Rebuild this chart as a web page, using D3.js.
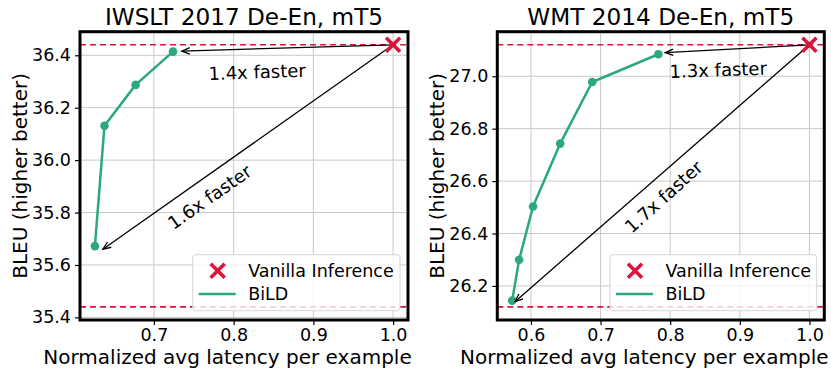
<!doctype html>
<html lang="en">
<head>
    <meta charset="UTF-8">
    <title>BiLD latency vs BLEU</title>
    <script src="https://d3js.org/d3.v7.min.js"></script>
    <style>
      body { margin: 0; background: #fff; }
      text { font-family: "DejaVu Sans", sans-serif; fill: #000; }
    </style>
</head>
<body>
    <svg width="831" height="373"></svg>

    <script>

      // Data
      const iwsltLatency = [0.626, 0.638, 0.677, 0.724];
      const iwsltBleu = [35.672, 36.131, 36.287, 36.414];
      const iwsltVanilla = [1.0, 36.44];
      const iwsltLower = 35.44;

      const wmtLatency = [0.573, 0.583, 0.603, 0.642, 0.688, 0.783];
      const wmtBleu = [26.144, 26.30, 26.503, 26.743, 26.978, 27.084];
      const wmtVanilla = [1.0, 27.12];
      const wmtLower = 26.12;

      const iwsltXTicks = [0.7, 0.8, 0.9, 1.0];
      const iwsltYTicks = [35.4, 35.6, 35.8, 36.0, 36.2, 36.4];
      const wmtXTicks = [0.6, 0.7, 0.8, 0.9, 1.0];
      const wmtYTicks = [26.2, 26.4, 26.6, 26.8, 27.0];

      const red = "#dc143c";
      const green = "#2ca87f";

      const svg = d3.select("svg");

      // arrow head, open "->" style
      svg.append("defs").append("marker")
          .attr("id", "head")
          .attr("viewBox", "-10 -5 12 10")
          .attr("markerWidth", 12)
          .attr("markerHeight", 10)
          .attr("markerUnits", "userSpaceOnUse")
          .attr("refX", 0)
          .attr("refY", 0)
          .attr("orient", "auto")
        .append("path")
          .attr("d", "M-8,-3.2L0,0L-8,3.2")
          .attr("fill", "none")
          .attr("stroke", "#000")
          .attr("stroke-width", 1.3);

      function panel(cfg) {
        const left = cfg.left, right = cfg.right, top = 31.7, bottom = 320;
        const g = svg.append("g");

        const xs = cfg.lat.concat([cfg.vanilla[0]]);
        const ys = cfg.bleu.concat([cfg.vanilla[1], cfg.lower]);
        const [x0, x1] = d3.extent(xs), [y0, y1] = d3.extent(ys);
        const px = (x1 - x0) * 0.05, py = (y1 - y0) * 0.05;

        const x = d3.scaleLinear().domain([x0 - px, x1 + px]).range([left, right]);
        const y = d3.scaleLinear().domain([y0 - py, y1 + py]).range([bottom, top]);

        // grid
        g.selectAll(".gx").data(cfg.xTicks).join("line")
            .attr("x1", d => x(d)).attr("x2", d => x(d))
            .attr("y1", top).attr("y2", bottom)
            .attr("stroke", "#c8c8c8").attr("stroke-width", 1);
        g.selectAll(".gy").data(cfg.yTicks).join("line")
            .attr("x1", left).attr("x2", right)
            .attr("y1", d => y(d)).attr("y2", d => y(d))
            .attr("stroke", "#c8c8c8").attr("stroke-width", 1);

        // axes
        const xAxis = g.append("g")
            .attr("transform", `translate(0,${bottom})`)
            .call(d3.axisBottom(x).tickValues(cfg.xTicks).tickFormat(d3.format(".1f"))
              .tickSize(5).tickPadding(4));
        const yAxis = g.append("g")
            .attr("transform", `translate(${left},0)`)
            .call(d3.axisLeft(y).tickValues(cfg.yTicks).tickFormat(d3.format(".1f"))
              .tickSize(5).tickPadding(4));
        [xAxis, yAxis].forEach(a => {
          a.select(".domain").remove();
          a.selectAll("line").attr("stroke-width", 1.2);
          a.selectAll("text").attr("font-size", 17.5).attr("font-family", "DejaVu Sans");
        });

        // dashed reference lines
        [cfg.vanilla[1], cfg.lower].forEach(v => {
          g.append("line")
              .attr("x1", left).attr("x2", right)
              .attr("y1", y(v)).attr("y2", y(v))
              .attr("stroke", red).attr("stroke-width", 1.6)
              .attr("stroke-dasharray", "6,4");
        });

        // BiLD curve
        const pts = cfg.lat.map((d, i) => [d, cfg.bleu[i]]);
        g.append("path")
            .datum(pts)
            .attr("d", d3.line().x(d => x(d[0])).y(d => y(d[1])))
            .attr("fill", "none").attr("stroke", green).attr("stroke-width", 2.5);
        g.selectAll(".pt").data(pts).join("circle")
            .attr("cx", d => x(d[0])).attr("cy", d => y(d[1])).attr("r", 4.3)
            .attr("fill", green);

        // arrows
        cfg.arrows.forEach(a => {
          g.append("line")
              .attr("x1", x(cfg.vanilla[0])).attr("y1", y(cfg.vanilla[1]))
              .attr("x2", x(a.to[0])).attr("y2", y(a.to[1]))
              .attr("stroke", "#000").attr("stroke-width", 1.3)
              .attr("marker-end", "url(#head)");
          g.append("text")
              .attr("transform", `translate(${x(a.at[0])},${y(a.at[1])}) rotate(${a.rot})`)
              .attr("text-anchor", "middle").attr("dy", "0.35em")
              .attr("font-size", 18).text(a.label);
        });

        // vanilla marker
        const vx = x(cfg.vanilla[0]), vy = y(cfg.vanilla[1]);
        g.append("path")
            .attr("d", `M${vx - 7},${vy - 7}L${vx + 7},${vy + 7}M${vx - 7},${vy + 7}L${vx + 7},${vy - 7}`)
            .attr("stroke", red).attr("stroke-width", 3.6);

        // frame
        g.append("rect")
            .attr("x", left).attr("y", top)
            .attr("width", right - left).attr("height", bottom - top)
            .attr("fill", "none").attr("stroke", "#000").attr("stroke-width", 3);

        // legend
        const lg = cfg.legend;
        g.append("rect")
            .attr("x", lg.x).attr("y", 254.7).attr("width", lg.w).attr("height", 56)
            .attr("rx", 3).attr("fill", "#fff").attr("fill-opacity", 0.8)
            .attr("stroke", "#d6d6d6").attr("stroke-width", 1);
        const mx = lg.x + 25, my = 270.7;
        g.append("path")
            .attr("d", `M${mx - 7},${my - 7}L${mx + 7},${my + 7}M${mx - 7},${my + 7}L${mx + 7},${my - 7}`)
            .attr("stroke", red).attr("stroke-width", 3.6);
        g.append("line")
            .attr("x1", lg.x + 6).attr("x2", lg.x + 43).attr("y1", 294).attr("y2", 294)
            .attr("stroke", green).attr("stroke-width", 2.5);
        g.append("text").attr("x", lg.x + 55.5).attr("y", 276.8).attr("font-size", 17.5).text("Vanilla Inference");
        g.append("text").attr("x", lg.x + 55.5).attr("y", 300.3).attr("font-size", 17.5).text("BiLD");

        // labels
        const cx = (left + right) / 2;
        g.append("text").attr("x", cx).attr("y", 25).attr("text-anchor", "middle")
            .attr("font-size", 23.2).text(cfg.title);
        g.append("text").attr("x", cx - 16.5).attr("y", 364).attr("text-anchor", "middle")
            .attr("font-size", 20).text("Normalized avg latency per example");
        g.append("text")
            .attr("transform", `translate(${left - 60},${(top + bottom) / 2}) rotate(-90)`)
            .attr("text-anchor", "middle").attr("dy", "0.35em")
            .attr("font-size", 20).text("BLEU (higher better)");
      }

      panel({
        left: 80, right: 408,
        title: "IWSLT 2017 De-En, mT5",
        lat: iwsltLatency, bleu: iwsltBleu, vanilla: iwsltVanilla, lower: iwsltLower,
        xTicks: iwsltXTicks, yTicks: iwsltYTicks,
        arrows: [
          { to: [0.735, 36.416], at: [0.8295, 36.336], rot: -2, label: "1.4x faster" },
          { to: [0.636, 35.66], at: [0.770, 35.859], rot: -35, label: "1.6x faster" }
        ],
        legend: { x: 192.7, w: 207.3 }
      });

      panel({
        left: 497.3, right: 824.3,
        title: "WMT 2014 De-En, mT5",
        lat: wmtLatency, bleu: wmtBleu, vanilla: wmtVanilla, lower: wmtLower,
        xTicks: wmtXTicks, yTicks: wmtYTicks,
        arrows: [
          { to: [0.7928, 27.09], at: [0.869, 27.024], rot: -2, label: "1.3x faster" },
          { to: [0.577, 26.14], at: [0.7907, 26.540], rot: -42, label: "1.7x faster" }
        ],
        legend: { x: 610, w: 206.7 }
      });

    </script>

</body>
</html>
